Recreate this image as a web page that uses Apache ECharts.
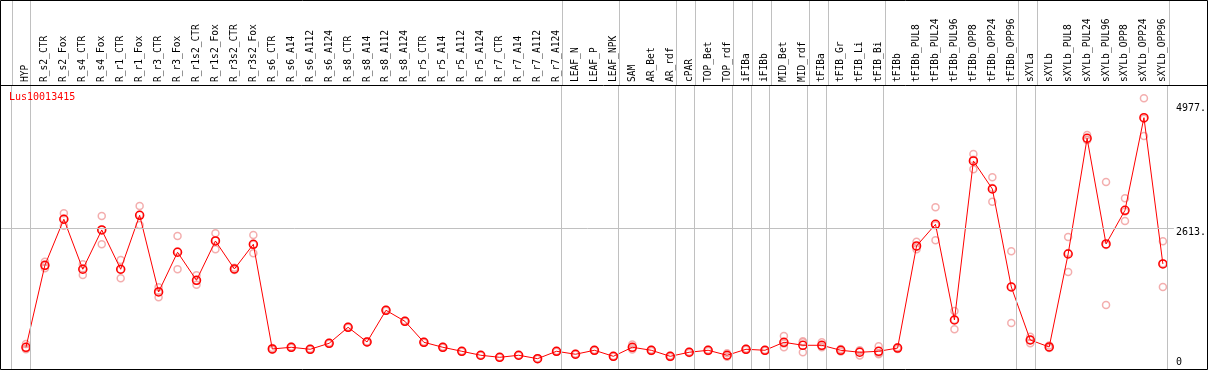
<!DOCTYPE html>
<html>
<head>
  <meta charset="utf-8">
  <style>
    html, body { margin: 0; padding: 0; width: 100%; height: 100%; overflow: hidden; background: #fff; }
  </style>
  <script src="https://cdn.jsdelivr.net/npm/echarts@6/dist/echarts.min.js"></script>
</head>
<body>
  <div id="container" style="width:1209px;height:370px;"></div>
  <script>
    // sample names (columns)
    const categories = [
      "HYP", "R_s2_CTR", "R_s2_Fox", "R_s4_CTR", "R_s4_Fox", "R_r1_CTR", "R_r1_Fox", "R_r3_CTR", "R_r3_Fox",
      "R_r1s2_CTR", "R_r1s2_Fox", "R_r3s2_CTR", "R_r3s2_Fox", "R_s6_CTR", "R_s6_A14", "R_s6_A112", "R_s6_A124",
      "R_s8_CTR", "R_s8_A14", "R_s8_A112", "R_s8_A124", "R_r5_CTR", "R_r5_A14", "R_r5_A112", "R_r5_A124",
      "R_r7_CTR", "R_r7_A14", "R_r7_A112", "R_r7_A124", "LEAF_N", "LEAF_P", "LEAF_NPK", "SAM", "AR_Bet", "AR_rdf",
      "cPAR", "TOP_Bet", "TOP_rdf", "iFIBa", "iFIBb", "MID_Bet", "MID_rdf", "tFIBa", "tFIB_Gr", "tFIB_Li", "tFIB_Bi",
      "tFIBb", "tFIBb_PUL8", "tFIBb_PUL24", "tFIBb_PUL96", "tFIBb_OPP8", "tFIBb_OPP24", "tFIBb_OPP96",
      "sXYLa", "sXYLb", "sXYLb_PUL8", "sXYLb_PUL24", "sXYLb_PUL96", "sXYLb_OPP8", "sXYLb_OPP24", "sXYLb_OPP96"
    ];

    // mean expression
    const means = [
      345, 1908, 2785, 1832, 2581, 1832, 2861, 1399, 2156, 1622, 2371, 1837, 2308, 313, 345, 307, 421,
      726, 446, 1050, 840, 440, 345, 269, 193, 154, 193, 128, 269, 212, 288, 173, 345, 288, 173,
      250, 288, 193, 307, 288, 440, 383, 383, 288, 250, 269, 330, 2276, 2689, 865, 3896, 3362, 1494,
      484, 351, 2123, 4329, 2314, 2956, 4721, 1933
    ];

    // replicates
    const rep1 = [
      408, 1977, 2899, 1927, 2848, 2009, 3038, 1488, 2466, 1717, 2518, 1860, 2485, 330, 360, 315, 430,
      735, 455, 1060, 850, 450, 355, 275, 200, 160, 200, 135, 276, 220, 295, 180, 400, 300, 185,
      262, 300, 230, 315, 295, 560, 459, 440, 310, 288, 364, 345, 2358, 3013, 1037, 4029, 3585, 2175,
      547, 380, 2447, 4391, 3496, 3185, 5091, 2365
    ];
    const rep2 = [
      307, 1851, 2663, 1723, 2308, 1660, 2676, 1298, 1832, 1538, 2213, 1820, 2137, 300, 335, 300, 410,
      715, 440, 1040, 830, 430, 335, 262, 186, 148, 186, 121, 262, 205, 281, 166, 305, 276, 160,
      238, 276, 165, 300, 281, 345, 250, 345, 265, 190, 212, 310, 2213, 2384, 688, 3738, 3120, 808,
      421, 330, 1780, 4296, 1151, 2752, 4372, 1494
    ];
    const rep3 = [
      320, 1896, 2793, 1846, 2587, 1827, 2869, 1411, 2170, 1611, 2382, 1831, 2302, 309, 340, 306, 423,
      728, 443, 1050, 840, 440, 345, 270, 193, 154, 193, 128, 269, 211, 288, 173, 330, 288, 174,
      250, 288, 184, 306, 288, 415, 440, 364, 289, 272, 231, 335, 2257, 2670, 870, 3921, 3381, 1499,
      484, 343, 2142, 4300, 2295, 2931, 4700, 1940
    ];

    // right axis labels
    const yTicks = [0, 2613, 4977];
    const yGridLine = 2613;

    // group separators: drawn just after these column indexes
    const groupEnds = [-1, 0, 28, 31, 34, 35, 37, 38, 39, 41, 42, 45, 52, 53, 60];

    const FONT = "DejaVu Sans Mono";
    const xMin = -1.317, xMax = 60.581;

    const sepLines = groupEnds.map(k => ({ xAxis: k + 0.25 }));
    const sepStyle = { color: "#c0c0c0", width: 1, type: "solid" };

    const meanData = means.map((v, i) => [i, v]);
    const repData = [];
    [rep1, rep2, rep3].forEach(r => r.forEach((v, i) => repData.push([i, v])));

    const myChart = echarts.init(document.getElementById('container'), null, { renderer: 'canvas' });

    const option = {
      animation: false,
      backgroundColor: "#fff",
      title: {
        text: "Lus10013415",
        left: 9,
        top: 92,
        padding: 0,
        textStyle: { color: "#ff0000", fontFamily: FONT, fontSize: 10, fontWeight: "normal" }
      },
      grid: [
        { left: 1, right: 33, top: 0, height: 85 },
        { left: 1, right: 33, top: 85, bottom: 1 }
      ],
      xAxis: [
        { gridIndex: 0, type: "value", min: xMin, max: xMax, show: false },
        {
          gridIndex: 1, type: "value", position: "top", min: xMin, max: xMax,
          axisLine: { show: false }, axisTick: { show: false }, splitLine: { show: false },
          axisLabel: {
            customValues: categories.map((c, i) => i),
            formatter: v => categories[v],
            rotate: 90, margin: 3,
            fontFamily: FONT, fontSize: 9.6, color: "#000"
          }
        }
      ],
      yAxis: [
        { gridIndex: 0, type: "value", min: 0, max: 1, show: false },
        {
          gridIndex: 1, type: "value", position: "right", min: -69, max: 5344,
          axisLine: { show: false }, axisTick: { show: false }, splitLine: { show: false },
          axisLabel: {
            customValues: yTicks,
            margin: 2,
            verticalAlign: "middle",
            color: "#000", fontFamily: FONT, fontSize: 10,
            formatter: v => v === 0 ? "{z|0}" : "{t|" + v + ".}",
            rich: {
              t: { padding: [8, 0, 0, 0], fontFamily: FONT, fontSize: 10, color: "#000" },
              z: { padding: [0, 0, 5, 0], fontFamily: FONT, fontSize: 10, color: "#000" }
            }
          }
        }
      ],
      graphic: [
        { type: "rect", shape: { x: 0.5, y: 0.5, width: 1207, height: 369 }, style: { fill: null, stroke: "#000", lineWidth: 1 }, silent: true, z: 100 },
        { type: "line", shape: { x1: 0, y1: 85.5, x2: 1207, y2: 85.5 }, style: { stroke: "#000", lineWidth: 1 }, silent: true, z: 100 }
      ],
      series: [
        {
          name: "sepHeader", type: "scatter", xAxisIndex: 0, yAxisIndex: 0, data: [], silent: true,
          markLine: { symbol: "none", silent: true, label: { show: false }, lineStyle: sepStyle, data: sepLines }
        },
        {
          name: "sepPlot", type: "scatter", xAxisIndex: 1, yAxisIndex: 1, data: [], silent: true, z: 1,
          markLine: {
            symbol: "none", silent: true, label: { show: false }, lineStyle: sepStyle,
            data: sepLines.concat([{ yAxis: yGridLine }])
          }
        },
        {
          name: "replicates", type: "scatter", xAxisIndex: 1, yAxisIndex: 1, data: repData, z: 2,
          symbol: "circle", symbolSize: 7,
          itemStyle: { color: "rgba(0,0,0,0)", borderColor: "#f09a9a", borderWidth: 1.5 }
        },
        {
          name: "mean", type: "line", xAxisIndex: 1, yAxisIndex: 1, data: meanData, z: 3,
          symbol: "circle", symbolSize: 8, showAllSymbol: true,
          lineStyle: { color: "#ff0000", width: 1 },
          itemStyle: { color: "rgba(0,0,0,0)", borderColor: "#ff0000", borderWidth: 1.5 }
        }
      ]
    };

    myChart.setOption(option);
    window.addEventListener('resize', myChart.resize);
  </script>
</body>
</html>
